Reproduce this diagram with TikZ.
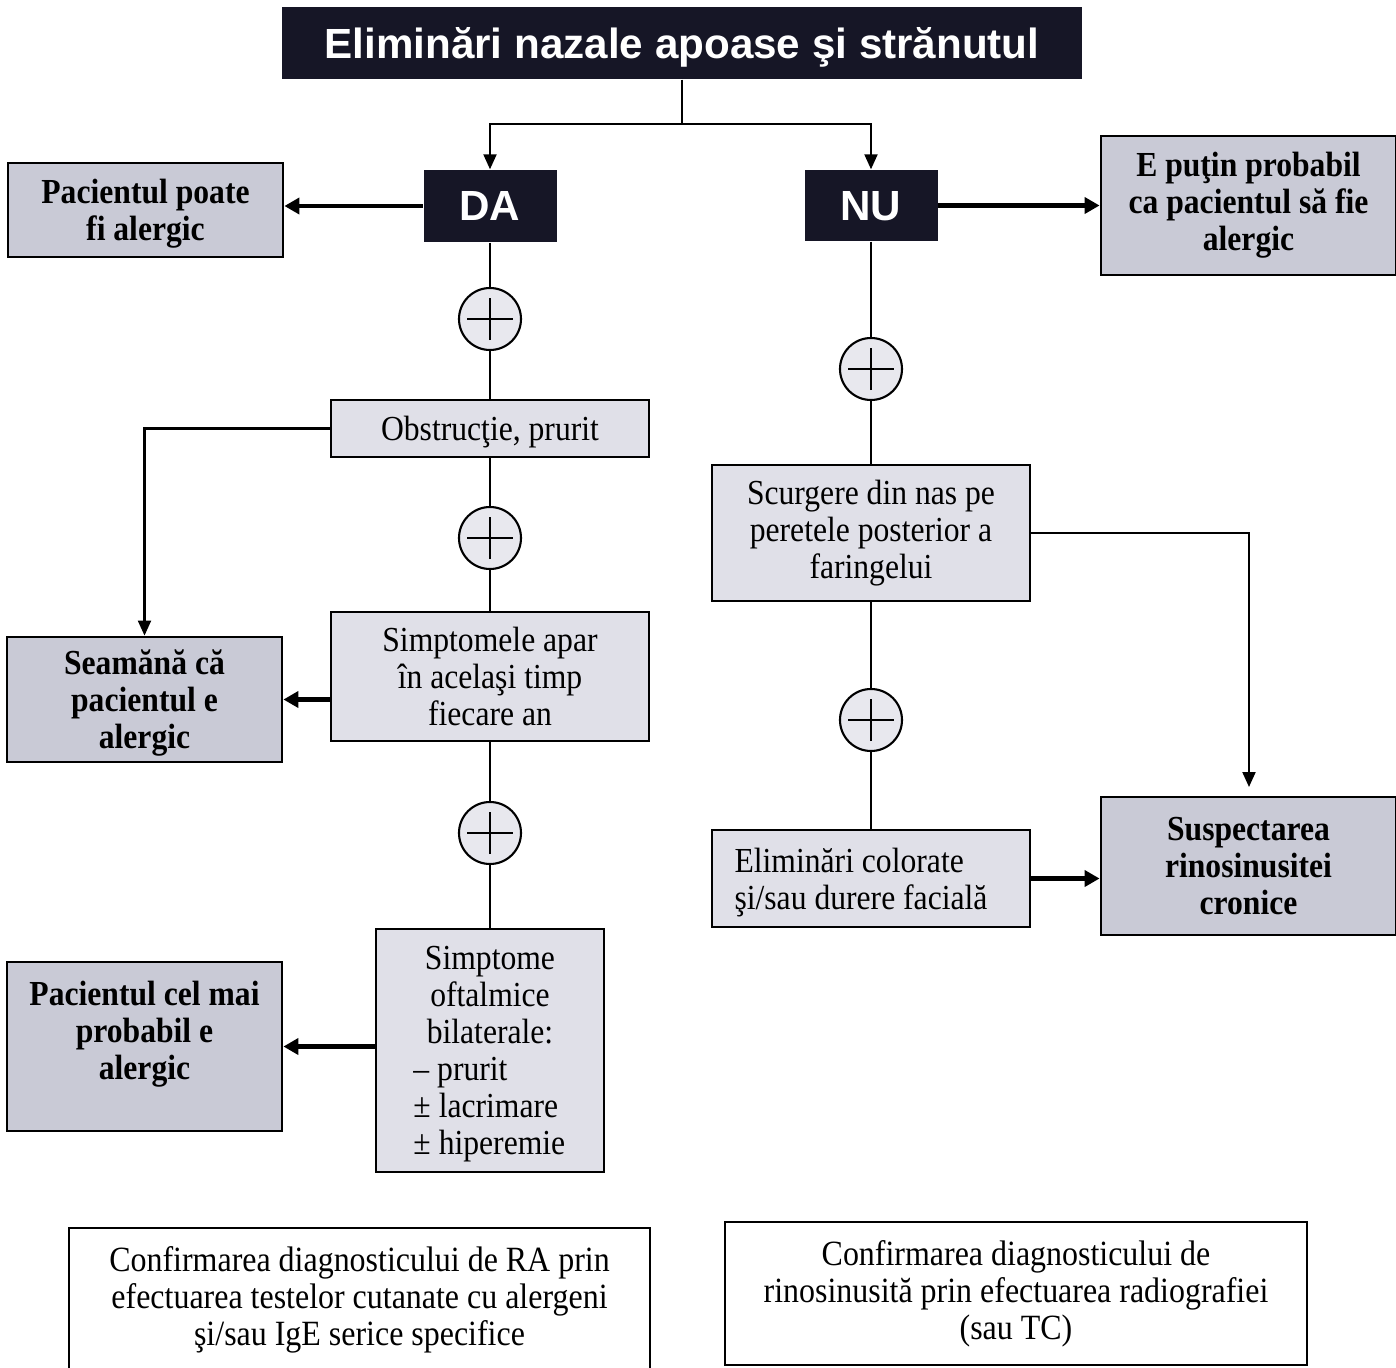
\documentclass[tikz,border=0pt]{standalone}
\usepackage{fontspec}
\setmainfont{Liberation Serif}[FakeStretch=0.9]
\setsansfont{Liberation Sans}
\usepackage{tikz}
\usepackage{xcolor}
\usetikzlibrary{arrows.meta,positioning}

\definecolor{navy}{RGB}{22,22,38}
\definecolor{boxgray}{RGB}{201,202,214}
\definecolor{boxlight}{RGB}{224,224,232}
\definecolor{circfill}{RGB}{232,232,238}

\begin{document}
\begin{tikzpicture}[
    darkbox/.style={rectangle,fill=navy,text=white,inner sep=0pt,font=\sffamily\bfseries\fontsize{12}{14}\selectfont},
    boldbox/.style={rectangle,draw,line width=0.8pt,fill=boxgray,inner sep=0pt,align=center,font=\bfseries\fontsize{10}{10.5}\selectfont},
    plainbox/.style={rectangle,draw,line width=0.7pt,fill=boxlight,inner sep=0pt,align=center,font=\fontsize{10}{10.5}\selectfont},
    notebox/.style={rectangle,draw,line width=0.7pt,fill=white,inner sep=0pt,align=center,font=\fontsize{10.1}{10.5}\selectfont},
    plusnode/.style={circle,draw,line width=0.6pt,fill=circfill,minimum size=0.62cm,inner sep=0pt},
    link/.style={line width=0.6pt},
    thinarrow/.style={line width=0.6pt,-{Triangle[length=1.5mm,width=1.3mm]}},
    thickarrow/.style={line width=1.4pt,-{Triangle[length=1.5mm,width=1.6mm]}}
]
    \useasboundingbox (0,0) rectangle (13.96,-13.68);

    % Title and answers
    \node[darkbox,text depth=-0.4pt,minimum width=8cm,minimum height=0.72cm] (title) at (6.82,-0.43) {Eliminări nazale apoase şi strănutul};
    \node[darkbox,text depth=-2.2pt,minimum width=1.33cm,minimum height=0.72cm] (da) at (4.90,-2.06) {DA};
    \node[darkbox,text depth=-2.2pt,minimum width=1.33cm,minimum height=0.71cm] (nu) at (8.71,-2.055) {NU};
    \coordinate (split) at (6.82,-1.24);
    \draw[link] (title.south) -- (split);
    \draw[thinarrow] (split) -| (da.north);
    \draw[thinarrow] (split) -| (nu.north);

    % Conclusions
    \node[boldbox,text depth=-1.2pt,minimum width=2.75cm,minimum height=0.94cm] (poate) at (1.455,-2.10) {Pacientul poate\\fi alergic};
    \node[boldbox,minimum width=2.95cm,minimum height=1.39cm] (putin) at (12.485,-2.055) {E puţin probabil\\ca pacientul să fie\\alergic};
    \node[boldbox,text depth=-5.2pt,minimum width=2.75cm,minimum height=1.25cm] (seam) at (1.445,-6.995) {Seamănă că\\pacientul e\\alergic};
    \node[boldbox,text depth=9pt,minimum width=2.75cm,minimum height=1.69cm] (probabil) at (1.445,-10.465) {Pacientul cel mai\\probabil e\\alergic};
    \node[boldbox,minimum width=2.95cm,minimum height=1.38cm] (suspect) at (12.485,-8.66) {Suspectarea\\rinosinusitei\\cronice};

    % DA branch
    \node[plusnode] (c1) at (4.90,-3.19) {};
    \node[plainbox,text depth=-1pt,minimum width=3.18cm,minimum height=0.57cm] (obst) at (4.90,-4.285) {Obstrucţie, prurit};
    \node[plusnode] (c2) at (4.90,-5.38) {};
    \node[plainbox,text depth=-2.2pt,minimum width=3.18cm,minimum height=1.29cm] (simpt) at (4.90,-6.765) {Simptomele apar\\în acelaşi timp\\fiecare an};
    \node[plusnode] (c3) at (4.90,-8.33) {};
    \node[plainbox,text depth=-0.6pt,minimum width=2.28cm,minimum height=2.43cm] (oft) at (4.90,-10.505) {Simptome\\oftalmice\\bilaterale:\\\makebox[1.53cm][l]{– prurit}\\\makebox[1.53cm][l]{± lacrimare}\\\makebox[1.53cm][l]{± hiperemie}};

    % NU branch
    \node[plusnode] (cn1) at (8.71,-3.69) {};
    \node[plainbox,minimum width=3.18cm,minimum height=1.36cm] (scurg) at (8.71,-5.33) {Scurgere din nas pe\\peretele posterior a\\faringelui};
    \node[plusnode] (cn2) at (8.71,-7.20) {};
    \node[plainbox,align=left,text depth=-0.6pt,minimum width=3.18cm,minimum height=0.97cm] (color) at (8.71,-8.785) {Eliminări colorate\\şi/sau durere facială\hspace*{0.2cm}};
    \coordinate (suspin) at (12.49,-7.87);

    % Plus signs
    \foreach \c in {c1,c2,c3,cn1,cn2} {
        \draw[link] (\c.center) ++(-0.23,0) -- ++(0.46,0);
        \draw[link] (\c.center) ++(0,-0.21) -- ++(0,0.42);
    }

    % Connectors
    \draw[link] (da) -- (c1) -- (obst) -- (c2) -- (simpt) -- (c3) -- (oft);
    \draw[link] (nu) -- (cn1) -- (scurg) -- (cn2) -- (color);
    \draw[thickarrow] (da.west) -- (da.west -| poate.east);
    \draw[thickarrow] (nu.east) -- (putin.west);
    \draw[thinarrow] (obst.west) -| (seam.north);
    \draw[thickarrow] (simpt.west |- seam.east) -- (seam.east);
    \draw[thickarrow] (oft.west |- probabil.east) -- (probabil.east);
    \draw[thinarrow] (scurg.east) -| (suspin);
    \draw[thickarrow] (color.east) -- (color.east -| suspect.west);

    % Confirmation notes
    \node[notebox,minimum width=5.81cm,minimum height=1.44cm] (conf1) at (3.595,-13.00) {Confirmarea diagnosticului de RA prin\\efectuarea testelor cutanate cu alergeni\\şi/sau IgE serice specifice};
    \node[notebox,minimum width=5.82cm,minimum height=1.43cm] (conf2) at (10.16,-12.935) {Confirmarea diagnosticului de\\rinosinusită prin efectuarea radiografiei\\(sau TC)};
\end{tikzpicture}
\end{document}
